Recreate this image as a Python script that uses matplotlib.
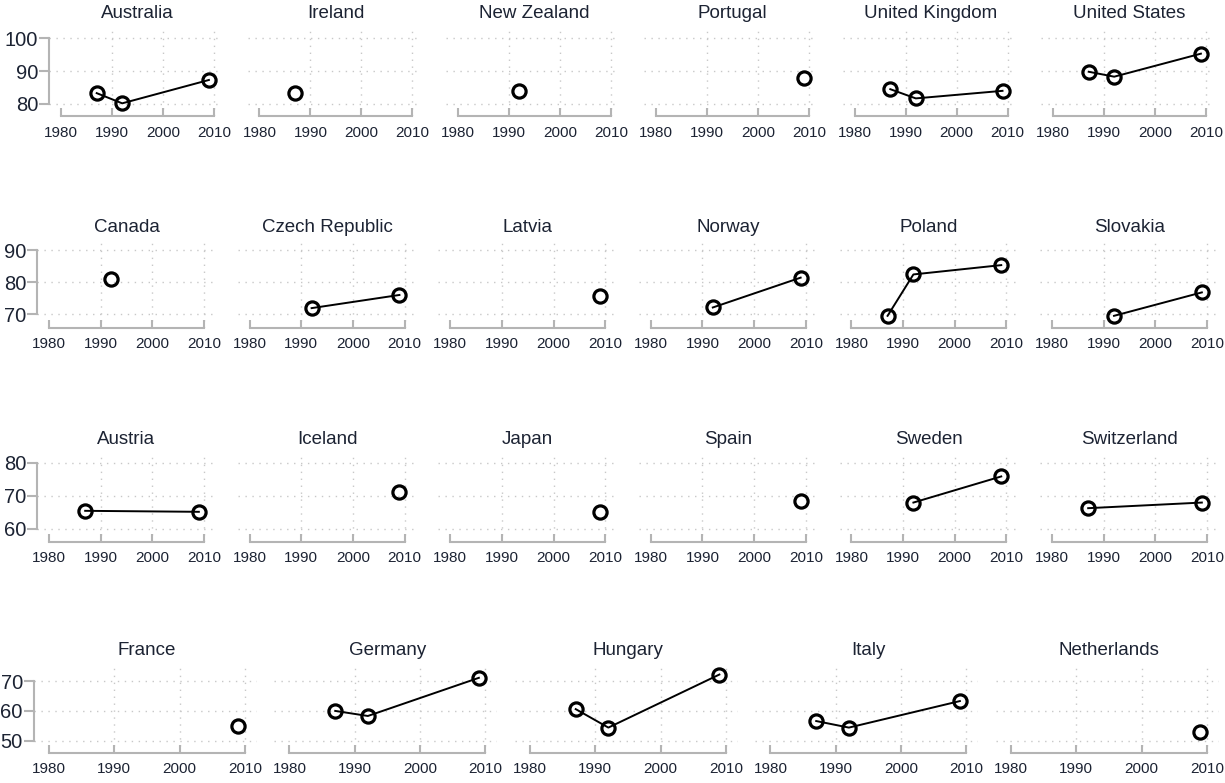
import numpy as np
import matplotlib
matplotlib.use('Agg')
import matplotlib.pyplot as plt

plt.rcParams['font.family'] = ['Liberation Sans', 'DejaVu Sans']

# survey years and values (nan = no survey)
years = [1987, 1992, 2009]
countries = ['Australia', 'Ireland', 'New Zealand', 'Portugal', 'United Kingdom', 'United States',
             'Canada', 'Czech Republic', 'Latvia', 'Norway', 'Poland', 'Slovakia',
             'Austria', 'Iceland', 'Japan', 'Spain', 'Sweden', 'Switzerland',
             'France', 'Germany', 'Hungary', 'Italy', 'Netherlands']
nan = np.nan
v1987 = [83.3, 83.3, nan, nan, 84.5, 89.8,
         nan, nan, nan, nan, 69.5, nan,
         65.4, nan, nan, nan, nan, 66.2,
         nan, 60.0, 60.6, 56.6, nan]
v1992 = [80.2, nan, 84.0, nan, 81.7, 88.3,
         80.9, 71.9, nan, 72.1, 82.4, 69.5,
         nan, nan, nan, nan, 67.9, nan,
         nan, 58.3, 54.4, 54.4, nan]
v2009 = [87.3, nan, nan, 87.8, 84.0, 95.3,
         nan, 76.0, 75.7, 81.4, 85.3, 76.8,
         65.1, 71.2, 65.1, 68.4, 75.8, 67.9,
         54.9, 71.1, 72.2, 63.3, 52.8]
row_sizes = [6, 6, 6, 5]
row_yticks = [[80, 90, 100], [70, 80, 90], [60, 70, 80], [50, 60, 70]]
xticks = [1980, 1990, 2000, 2010]

# geometrie des lignes (pixels): 1980 du 1er panneau, pas, px/an, haut, bas, ylim
row_geom = [
    (61, 198.4, 5.10, 28, 116, (76.35, 103.1)),
    (49, 200.6, 5.167, 241.7, 327.7, (65.8, 92.6)),
    (49, 200.6, 5.167, 453.3, 541.7, (56.06, 82.8)),
    (49, 240.5, 6.53, 665, 752.7, (45.98, 75.4)),
]
xlim = (1977.7, 2011.8)

W, H = 1225, 783
fig = plt.figure(figsize=(W / 100, H / 100), dpi=100)
txt_col = '#1c2333'
ax_col = '#b4b4b4'
grid_col = '#c8c8c8'

k = 0
for r, n in enumerate(row_sizes):
    x0, step, ppy, top, bot, ylim = row_geom[r]
    for j in range(n):
        left = x0 + j * step + (xlim[0] - 1980) * ppy
        width = (xlim[1] - xlim[0]) * ppy
        ax = fig.add_axes([left / W, 1 - bot / H, width / W, (bot - top) / H])
        ax.set_xlim(xlim)
        ax.set_ylim(ylim)

        # grille pointillee
        for yt in row_yticks[r]:
            ax.axhline(yt, color=grid_col, lw=1, ls=(0, (1, 4)), zorder=0)
        for xt in xticks[1:]:
            ax.axvline(xt, color=grid_col, lw=1, ls=(0, (1, 4)), zorder=0)

        ys = np.array([v1987[k], v1992[k], v2009[k]], dtype=float)
        ok = ~np.isnan(ys)
        ax.plot(np.array(years)[ok], ys[ok], color='black', lw=1.4, marker='o',
                ms=9.5, mfc='none', mec='black', mew=2.3, zorder=3)

        for s in ['top', 'right']:
            ax.spines[s].set_visible(False)
        ax.spines['bottom'].set_bounds(1980, 2010)
        ax.spines['bottom'].set_color(ax_col)
        ax.spines['bottom'].set_linewidth(1.5)
        ax.set_xticks(xticks)
        ax.tick_params(axis='x', direction='in', length=6, width=1.5, color=ax_col,
                       labelsize=11, labelcolor=txt_col, pad=7)
        if j == 0:
            ax.spines['left'].set_bounds(row_yticks[r][0], row_yticks[r][-1])
            ax.spines['left'].set_color(ax_col)
            ax.spines['left'].set_linewidth(1.5)
            ax.set_yticks(row_yticks[r])
            ax.tick_params(axis='y', direction='out', length=7, width=1.5, color=ax_col,
                           labelsize=14.5, labelcolor=txt_col, pad=1)
        else:
            ax.spines['left'].set_visible(False)
            ax.set_yticks([])

        ax.annotate(countries[k], xy=(1995, 1), xycoords=('data', 'axes fraction'),
                    xytext=(0, 4), textcoords='offset points', ha='center', va='bottom',
                    fontsize=13.5, color=txt_col)
        k += 1

fig.savefig('out.png', dpi=100)
